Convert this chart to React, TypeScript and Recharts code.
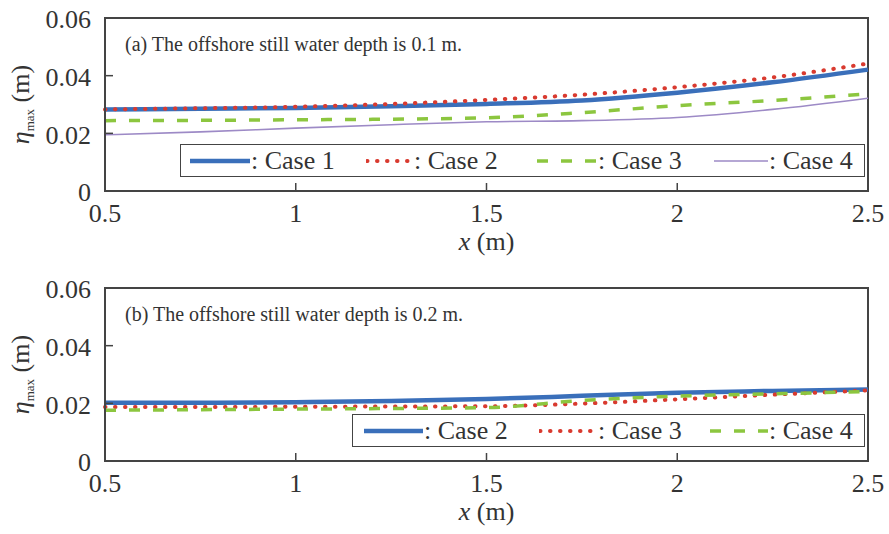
import {
    LineChart,
    Line,
    XAxis,
    YAxis,
    ReferenceArea,
    Legend
} from "recharts";

// x positions (m)
const xPos = [0.5, 0.75, 1, 1.25, 1.5, 1.75, 2, 2.25, 2.5];

// (a) offshore still water depth 0.1 m
const aCase1 = [0.0283, 0.0285, 0.0288, 0.0294, 0.0302, 0.0314, 0.0341, 0.0377, 0.0421];
const aCase2 = [0.0283, 0.0287, 0.0292, 0.0302, 0.0316, 0.0334, 0.036, 0.0394, 0.0442];
const aCase3 = [0.0244, 0.0245, 0.0247, 0.0249, 0.0254, 0.0272, 0.0296, 0.0314, 0.0337];
const aCase4 = [0.0195, 0.0205, 0.0218, 0.023, 0.024, 0.0244, 0.0255, 0.0283, 0.0322];

// (b) offshore still water depth 0.2 m
const bCase2 = [0.0202, 0.0202, 0.0204, 0.0208, 0.0215, 0.0226, 0.0237, 0.0243, 0.0248];
const bCase3 = [0.0187, 0.0187, 0.0188, 0.0189, 0.019, 0.0199, 0.0214, 0.023, 0.0245];
const bCase4 = [0.0176, 0.0178, 0.018, 0.0182, 0.0185, 0.021, 0.0225, 0.0233, 0.0241];

const xTicks = [0.5, 1, 1.5, 2, 2.5];
const yTicks = [0, 0.02, 0.04, 0.06];

const FONT = "Liberation Serif";
const INK = "#333";

const BLUE = "#3a6fba";
const RED = "#d93a2f";
const GREEN = "#8cc63f";
const PURPLE = "#9d8ac6";

type Style = {
    color: string;
    width: number;
    dash?: string;
    cap?: "round" | "butt";
};

const styles: Record<string, Style> = {
    solidBlue: { color: BLUE, width: 4.5 },
    dotRed: { color: RED, width: 4, dash: "0.5 9.5", cap: "round" },
    dashGreen: { color: GREEN, width: 3.5, dash: "11 13" },
    thinPurple: { color: PURPLE, width: 1.6 }
};

const topData = xPos.map((x, i) => ({
    x,
    c1: aCase1[i],
    c2: aCase2[i],
    c3: aCase3[i],
    c4: aCase4[i]
}));

const bottomData = xPos.map((x, i) => ({
    x,
    c2: bCase2[i],
    c3: bCase3[i],
    c4: bCase4[i]
}));

type LegendItem = { name: string; style: Style; left: number; len: number };

const topLegend: LegendItem[] = [
    { name: "Case 1", style: styles.solidBlue, left: 8, len: 62 },
    { name: "Case 2", style: styles.dotRed, left: 185, len: 48 },
    { name: "Case 3", style: styles.dashGreen, left: 355, len: 62 },
    { name: "Case 4", style: styles.thinPurple, left: 532, len: 56 }
];

const bottomLegend: LegendItem[] = [
    { name: "Case 2", style: styles.solidBlue, left: 10, len: 61 },
    { name: "Case 3", style: styles.dotRed, left: 186, len: 59 },
    { name: "Case 4", style: styles.dashGreen, left: 356, len: 60 }
];

function LegendBox({ items }: { items: LegendItem[] }) {
    return (
        <div
            style={{
                position: "relative",
                width: "100%",
                height: "100%",
                boxSizing: "border-box",
                border: "1.5px solid #444",
                background: "#fff",
                fontFamily: FONT,
                fontSize: 26,
                color: INK
            }}
        >
            {items.map((it) => (
                <div
                    key={it.name}
                    style={{
                        position: "absolute",
                        left: it.left,
                        top: 0,
                        height: "100%",
                        display: "flex",
                        alignItems: "center",
                        whiteSpace: "nowrap"
                    }}
                >
                    <svg width={it.len} height={10}>
                        <line
                            x1={1}
                            x2={it.len - 1}
                            y1={5}
                            y2={5}
                            stroke={it.style.color}
                            strokeWidth={it.style.width}
                            strokeDasharray={it.style.dash}
                            strokeLinecap={it.style.cap ?? "butt"}
                        />
                    </svg>
                    <span style={{ lineHeight: 1, fontFamily: FONT }}>: {it.name}</span>
                </div>
            ))}
        </div>
    );
}

function XTitle(props: any) {
    const vb = props.viewBox || {};
    return (
        <text
            x={vb.x + vb.width / 2}
            y={250}
            textAnchor="middle"
            fontFamily={FONT}
            fontSize={26}
            fill={INK}
        >
            <tspan fontStyle="italic">x</tspan>
            <tspan> (m)</tspan>
        </text>
    );
}

function YTitle(props: any) {
    const vb = props.viewBox || {};
    const cy = vb.y + vb.height / 2;
    return (
        <text
            transform={`translate(29, ${cy}) rotate(-90)`}
            x={0}
            y={0}
            textAnchor="middle"
            fontFamily={FONT}
            fontSize={26}
            fill={INK}
        >
            <tspan fontStyle="italic">η</tspan>
            <tspan fontSize={13} dy={5}>max</tspan>
            <tspan dy={-5}> (m)</tspan>
        </text>
    );
}

function Note({ viewBox, text }: any) {
    return (
        <text
            x={viewBox.x + 20}
            y={viewBox.y + 33}
            fontFamily={FONT}
            fontSize={20}
            fill={INK}
        >
            {text}
        </text>
    );
}

const fmtY = (v: number) => (v === 0 ? "0" : v.toFixed(2));
const fmtX = (v: number) => String(v);

function Panel({
    data,
    note,
    height,
    series,
    legend,
    legendBox
}: {
    data: any[];
    note: string;
    height: number;
    series: { key: string; style: Style }[];
    legend: LegendItem[];
    legendBox: { left: number; width: number };
}) {
    return (
        <LineChart
            width={889}
            height={height}
            data={data}
            margin={{ top: 18, right: 21, bottom: height - 191 - 50, left: 0 }}
            style={{ fontFamily: FONT }}
        >
            <XAxis
                dataKey="x"
                type="number"
                domain={[0.5, 2.5]}
                ticks={xTicks}
                tickFormatter={fmtX}
                height={50}
                tickSize={-8}
                tickMargin={21}
                tick={{ fontSize: 26, fill: INK, fontFamily: FONT }}
                stroke="#444"
                axisLine={{ stroke: "#444", strokeWidth: 2 }}
                tickLine={{ stroke: "#444", strokeWidth: 1.5 }}
                label={<XTitle />}
            />
            <YAxis
                type="number"
                domain={[0, 0.06]}
                ticks={yTicks}
                tickFormatter={fmtY}
                width={105}
                tickSize={-8}
                tickMargin={22}
                tick={{ fontSize: 26, fill: INK, fontFamily: FONT, dy: 1 }}
                axisLine={{ stroke: "#444", strokeWidth: 2 }}
                tickLine={{ stroke: "#444", strokeWidth: 1.5 }}
                label={<YTitle />}
            />
            <ReferenceArea
                x1={0.5}
                x2={2.5}
                y1={0}
                y2={0.06}
                fill="none"
                stroke="#444"
                strokeWidth={2}
                ifOverflow="visible"
                label={<Note text={note} />}
            />
            {series.map((s) => (
                <Line
                    key={s.key}
                    dataKey={s.key}
                    type="monotone"
                    stroke={s.style.color}
                    strokeWidth={s.style.width}
                    strokeDasharray={s.style.dash}
                    strokeLinecap={s.style.cap ?? "butt"}
                    dot={false}
                    activeDot={false}
                    isAnimationActive={false}
                />
            ))}
            <Legend
                layout="horizontal"
                verticalAlign="middle"
                content={() => <LegendBox items={legend} />}
                wrapperStyle={{
                    position: "absolute",
                    left: legendBox.left,
                    top: 144,
                    width: legendBox.width,
                    height: 33
                }}
            />
        </LineChart>
    );
}

export default function App() {
    return (
        <div
            style={{
                position: "absolute",
                left: 0,
                top: 0,
                width: 889,
                height: 534,
                background: "#fff",
                fontFamily: FONT
            }}
        >
            <Panel
                data={topData}
                note="(a) The offshore still water depth is 0.1 m."
                height={270}
                series={[
                    { key: "c1", style: styles.solidBlue },
                    { key: "c2", style: styles.dotRed },
                    { key: "c3", style: styles.dashGreen },
                    { key: "c4", style: styles.thinPurple }
                ]}
                legend={topLegend}
                legendBox={{ left: 180, width: 685 }}
            />
            <Panel
                data={bottomData}
                note="(b) The offshore still water depth is 0.2 m."
                height={264}
                series={[
                    { key: "c2", style: styles.solidBlue },
                    { key: "c3", style: styles.dotRed },
                    { key: "c4", style: styles.dashGreen }
                ]}
                legend={bottomLegend}
                legendBox={{ left: 352, width: 513 }}
            />
        </div>
    );
}
